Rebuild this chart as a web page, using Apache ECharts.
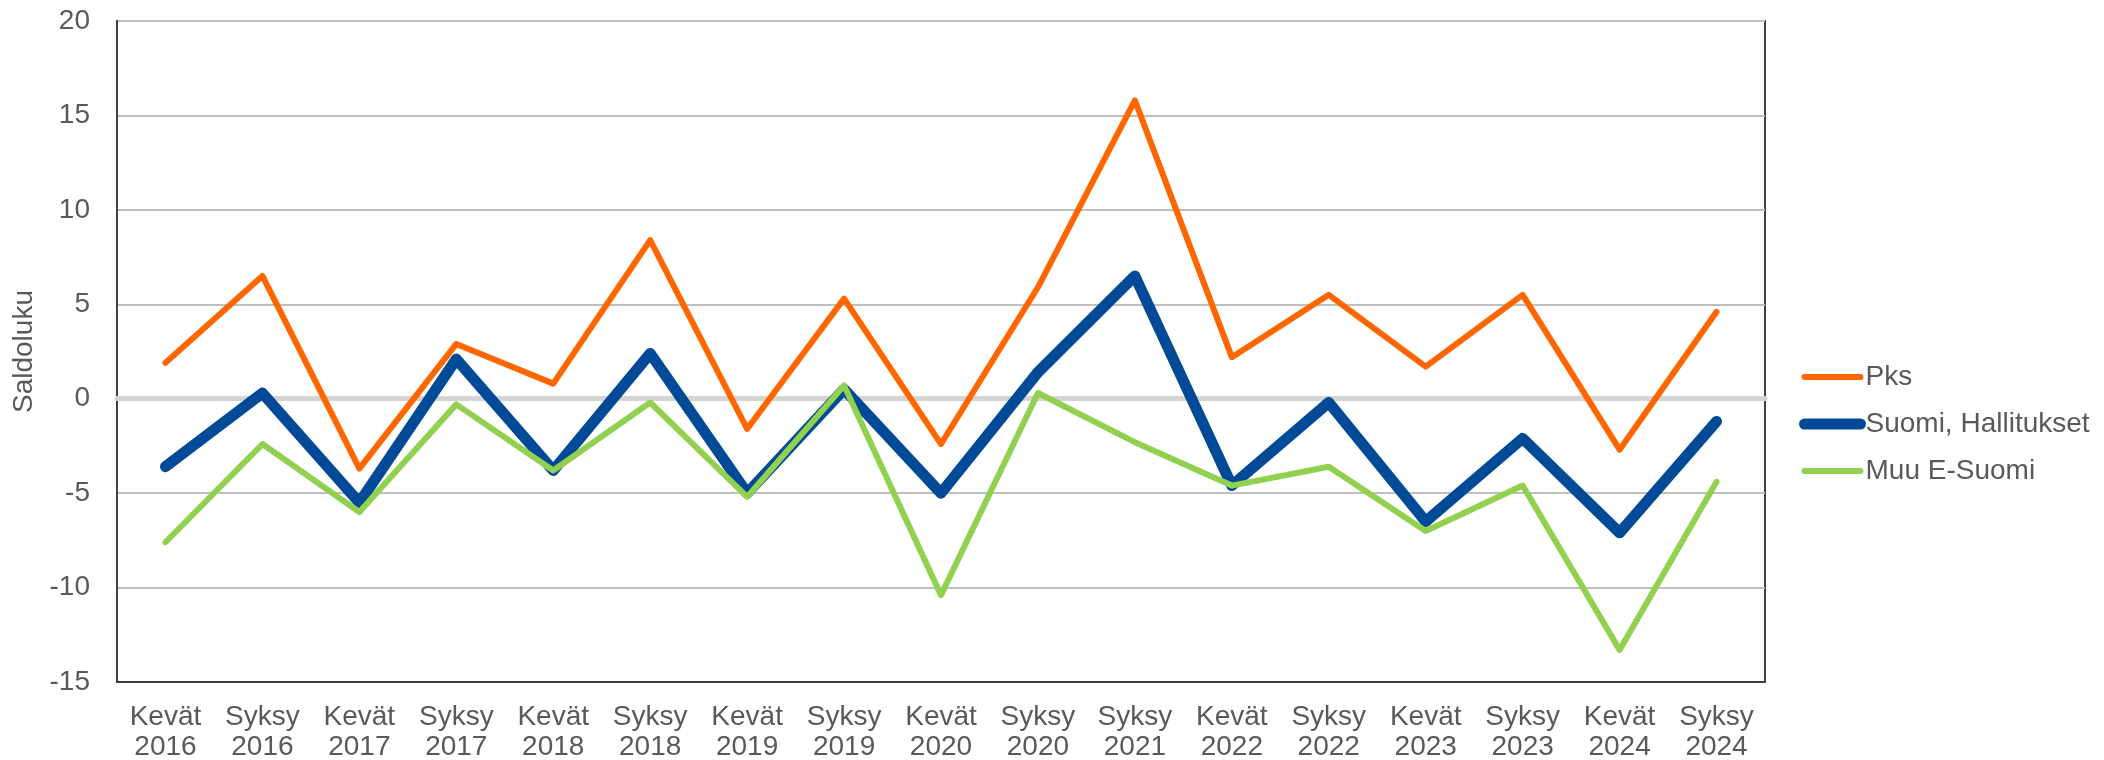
<!DOCTYPE html>
<html>
<head>
<meta charset="utf-8">
<script src="https://cdn.jsdelivr.net/npm/echarts@6/dist/echarts.min.js"></script>
<style>html,body{margin:0;padding:0;background:#fff}#c{width:2104px;height:760px}</style>
</head>
<body>
<div id="c"></div>
<script>
const categories = ['Kevät\n2016','Syksy\n2016','Kevät\n2017','Syksy\n2017','Kevät\n2018','Syksy\n2018','Kevät\n2019','Syksy\n2019','Kevät\n2020','Syksy\n2020','Syksy\n2021','Kevät\n2022','Syksy\n2022','Kevät\n2023','Syksy\n2023','Kevät\n2024','Syksy\n2024'];
const pks = [1.9, 6.5, -3.7, 2.9, 0.8, 8.4, -1.6, 5.3, -2.4, 5.9, 15.8, 2.2, 5.5, 1.7, 5.5, -2.7, 4.6];
const suomiHallitukset = [-3.6, 0.3, -5.5, 2.1, -3.8, 2.4, -5.0, 0.5, -5.0, 1.4, 6.5, -4.6, -0.2, -6.5, -2.1, -7.1, -1.2];
const muuESuomi = [-7.6, -2.4, -6.0, -0.3, -3.8, -0.2, -5.2, 0.7, -10.4, 0.3, -2.3, -4.6, -3.6, -7.0, -4.6, -13.3, -4.4];
const yTicks = {min: -15, max: 20, interval: 5};

const font = 'Liberation Sans, Arial, sans-serif';
const txt = '#595959';
const colors = {pks: '#FF6600', suomi: '#004A97', muu: '#92D050'};
const hidden = {color: 'rgba(0,0,0,0)', borderColor: 'rgba(0,0,0,0)', borderWidth: 0};
const chart = echarts.init(document.getElementById('c'), null, {renderer: 'canvas'});
chart.setOption({
  animation: false,
  backgroundColor: '#fff',
  grid: {left: 117, top: 21, right: 339, bottom: 78, outerBoundsMode: 'none', containLabel: false, show: true, borderColor: '#404040', borderWidth: 2, backgroundColor: 'transparent'},
  legend: {
    orient: 'vertical', left: 1799, top: 362, padding: 0, itemWidth: 56, itemHeight: 14, itemGap: 17,
    textStyle: {fontFamily: font, fontSize: 28, color: txt, lineHeight: 30, padding: 0},
    data: [
      {name: 'Pks', itemStyle: hidden, lineStyle: {color: colors.pks, width: 6, cap: 'round'}},
      {name: 'Suomi, Hallitukset', itemStyle: hidden, lineStyle: {color: colors.suomi, width: 11, cap: 'round'}},
      {name: 'Muu E-Suomi', itemStyle: hidden, lineStyle: {color: colors.muu, width: 6, cap: 'round'}}
    ]
  },
  xAxis: [{
    type: 'category', data: categories, boundaryGap: true,
    axisLine: {show: true, onZero: false, lineStyle: {color: '#404040', width: 2}},
    axisTick: {show: false},
    axisLabel: {fontFamily: font, fontSize: 28, color: txt, lineHeight: 30, margin: 20, interval: 0},
    splitLine: {show: false}
  }, {
    type: 'category', data: categories, position: 'top', boundaryGap: true,
    axisLine: {show: true, onZero: true, lineStyle: {color: '#d4d4d4', width: 5}},
    axisTick: {show: false}, axisLabel: {show: false}, splitLine: {show: false}
  }],
  yAxis: {
    type: 'value', min: yTicks.min, max: yTicks.max, interval: yTicks.interval,
    name: 'Saldoluku', nameLocation: 'middle', nameGap: 74,
    nameTextStyle: {fontFamily: font, fontSize: 28, color: txt},
    axisLine: {show: true, lineStyle: {color: '#404040', width: 2}},
    axisTick: {show: false},
    axisLabel: {fontFamily: font, fontSize: 28, color: txt, margin: 27},
    splitLine: {show: true, lineStyle: {color: '#bfbfbf', width: 2}}
  },
  series: [
    {name: 'Pks', type: 'line', data: pks, symbol: 'none', lineStyle: {color: colors.pks, width: 6, cap: 'round', join: 'round'}, itemStyle: {color: colors.pks}},
    {name: 'Suomi, Hallitukset', type: 'line', data: suomiHallitukset, symbol: 'none', lineStyle: {color: colors.suomi, width: 11, cap: 'round', join: 'round'}, itemStyle: {color: colors.suomi}},
    {name: 'Muu E-Suomi', type: 'line', data: muuESuomi, symbol: 'none', lineStyle: {color: colors.muu, width: 6, cap: 'round', join: 'round'}, itemStyle: {color: colors.muu}}
  ]
});
</script>
</body>
</html>
